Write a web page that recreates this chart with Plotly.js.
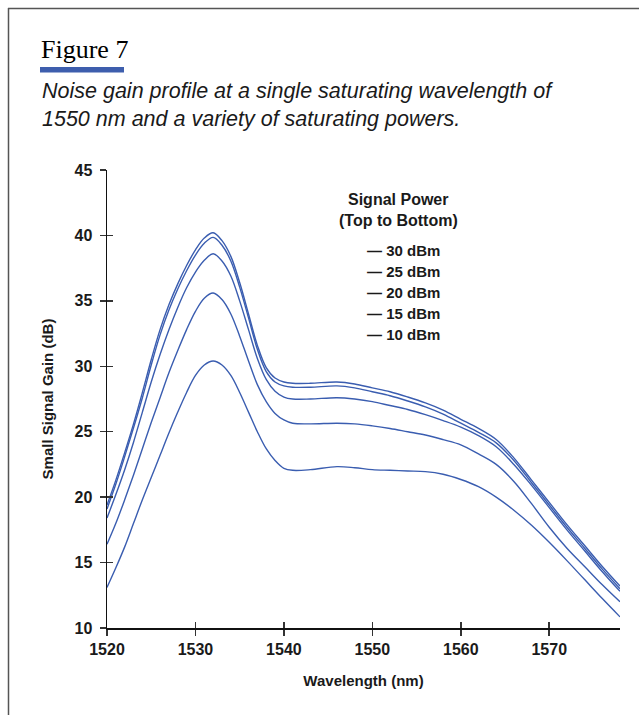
<!DOCTYPE html>
<html>
<head>
<meta charset="utf-8">
<script src="https://cdn.plot.ly/plotly-3.0.1.min.js"></script>
<style>
  html, body { margin: 0; padding: 0; background: #fff; }
  #chart { width: 639px; height: 715px; }
</style>
</head>
<body>
<div id="chart"></div>
<script>
// ---- Data ----
const wavelength = [1520,1521,1522,1523,1524,1525,1526,1527,1528,1529,1530,1531,1532,1533,1534,1535,1536,1537,1538,1539,1540,1541,1543,1546,1548,1550,1552,1554,1556,1558,1560,1562,1564,1566,1568,1570,1572,1574,1576,1578];
const gain30dBm = [19.4,21.3,23.4,25.6,28.0,30.5,32.8,34.7,36.3,37.7,38.9,39.8,40.2,39.6,38.4,36.4,34.0,31.6,29.9,29.1,28.8,28.7,28.7,28.8,28.65,28.35,28.05,27.65,27.2,26.65,25.95,25.25,24.4,23.0,21.3,19.6,17.9,16.3,14.7,13.2];
const gain25dBm = [19.1,21.0,23.1,25.3,27.6,30.1,32.4,34.3,35.9,37.3,38.5,39.4,39.85,39.25,38.05,36.05,33.7,31.3,29.6,28.8,28.5,28.4,28.4,28.5,28.35,28.05,27.75,27.35,26.9,26.35,25.65,24.95,24.15,22.8,21.1,19.4,17.7,16.1,14.5,13.0];
const gain20dBm = [18.4,20.2,22.1,24.2,26.5,28.8,30.9,32.8,34.5,36.0,37.2,38.1,38.6,38.05,36.9,35.0,32.8,30.6,29.0,28.1,27.65,27.5,27.5,27.6,27.5,27.3,27.0,26.7,26.3,25.85,25.35,24.7,23.85,22.5,20.9,19.2,17.5,15.9,14.3,12.8];
const gain15dBm = [16.4,18.0,19.8,21.7,23.7,25.7,27.6,29.5,31.2,32.8,34.2,35.2,35.6,35.1,34.0,32.3,30.4,28.6,27.3,26.4,25.9,25.65,25.6,25.65,25.6,25.45,25.25,25.0,24.75,24.4,24.0,23.3,22.5,21.2,19.5,17.7,16.1,14.7,13.3,12.0];
const gain10dBm = [13.1,14.6,16.2,18.0,19.8,21.5,23.2,24.9,26.5,28.0,29.3,30.1,30.4,30.1,29.3,28.0,26.5,25.0,23.7,22.8,22.2,22.05,22.1,22.33,22.25,22.1,22.05,22.0,21.95,21.75,21.35,20.8,20.0,19.0,17.85,16.55,15.15,13.7,12.25,10.85];
const seriesNames = ['30 dBm','25 dBm','20 dBm','15 dBm','10 dBm'];
const seriesValues = [gain30dBm, gain25dBm, gain20dBm, gain15dBm, gain10dBm];
const xTicks = [1520,1530,1540,1550,1560,1570];
const yTicks = [10,15,20,25,30,35,40,45];
const titleText = 'Figure 7';
const subtitleLines = ['Noise gain profile at a single saturating wavelength of', '1550 nm and a variety of saturating powers.'];
const legendTitle = ['Signal Power','(Top to Bottom)'];

// ---- Layout helpers ----
const W = 639, H = 715;
const M = {l:107, r:19, t:170, b:87};
const pw = W - M.l - M.r, ph = H - M.t - M.b;
const px = v => (v - M.l) / pw;
const py = v => (H - M.b - v) / ph;

const lineColor = '#3a5db0';
const sans = '"Liberation Sans", Arial, sans-serif';
const ink = '#1a1a1a';

const traces = seriesValues.map((vals, i) => ({
  type: 'scatter', mode: 'lines', x: wavelength, y: vals, name: seriesNames[i],
  line: {color: lineColor, width: 1.4, shape: 'spline', smoothing: 1},
  showlegend: false, hoverinfo: 'x+y+name'
}));
// invisible trace to bind the mirror axes (crossing tick marks)
traces.push({type:'scatter', mode:'lines', x:[1520], y:[10], xaxis:'x2', yaxis:'y2', showlegend:false, hoverinfo:'skip', line:{width:0}});

const annotations = [
  {text: titleText, xref:'paper', yref:'paper', x: px(39), y: py(49), xanchor:'left', yanchor:'middle', showarrow:false,
   font:{family:'"Liberation Serif", "DejaVu Serif", serif', size:26, color:'#000'}},
  {text: subtitleLines.join('<br>'), xref:'paper', yref:'paper', x: px(40), y: py(105.5), xanchor:'left', yanchor:'middle', align:'left', showarrow:false,
   font:{family:sans, size:21.5, color:ink, style:'italic'}},
  {text: '<b>' + legendTitle[0] + '</b>', xref:'paper', yref:'paper', x: px(398), y: py(199), xanchor:'center', yanchor:'middle', showarrow:false,
   font:{family:sans, size:16, color:ink}},
  {text: '<b>' + legendTitle[1] + '</b>', xref:'paper', yref:'paper', x: px(398), y: py(220), xanchor:'center', yanchor:'middle', showarrow:false,
   font:{family:sans, size:16, color:ink}}
];
seriesNames.forEach((n, i) => {
  annotations.push({text: '<b>\u2014 ' + n + '</b>', xref:'paper', yref:'paper', x: px(365), y: py(250 + i*21.2), xanchor:'left', yanchor:'middle', showarrow:false,
    font:{family:sans, size:15, color:ink}});
});

const shapes = [
  // blue bar under the figure title
  {type:'rect', xref:'paper', yref:'paper', x0: px(40), x1: px(124), y0: py(67), y1: py(72.5), fillcolor:'#3e5ead', line:{width:0}},
  // outer frame (left and top)
  {type:'line', xref:'paper', yref:'paper', x0: px(8.5), x1: px(8.5), y0: py(8), y1: py(716), line:{color:'#555', width:1.5}},
  {type:'line', xref:'paper', yref:'paper', x0: px(8), x1: px(640), y0: py(8.5), y1: py(8.5), line:{color:'#555', width:1.5}}
];

const axisFont = {family: sans, size: 16, color: ink, weight: 'bold'};

const layout = {
  width: W, height: H,
  margin: M,
  paper_bgcolor:'#fff', plot_bgcolor:'#fff',
  showlegend: false,
  xaxis: {
    range: [1520, 1578], tickvals: xTicks, ticktext: xTicks.map(String),
    showgrid:false, zeroline:false, showline:true, linecolor:'#111', linewidth:1.5,
    ticks:'outside', ticklen:6, tickwidth:1.5, tickcolor:'#333',
    tickfont: axisFont,
    title: {text:'<b>Wavelength (nm)</b>', font:{family:sans, size:15, color:ink}, standoff: 19}
  },
  yaxis: {
    range: [10, 45], tickvals: yTicks, ticktext: yTicks.map(String),
    showgrid:false, zeroline:false, showline:true, linecolor:'#111', linewidth:1.5,
    ticks:'outside', ticklen:6, tickwidth:1.5, tickcolor:'#333', ticklabelstandoff: 4,
    tickfont: axisFont,
    title: {text:'<b>Small Signal Gain (dB)</b>', font:{family:sans, size:15, color:ink}, standoff: 17}
  },
  xaxis2: {overlaying:'x', matches:'x', range:[1520,1578], tickvals: xTicks, showticklabels:false, ticks:'inside', ticklen:6, tickwidth:1.5, tickcolor:'#333', showgrid:false, zeroline:false, showline:false, side:'bottom'},
  yaxis2: {overlaying:'y', matches:'y', range:[10,45], tickvals: yTicks, showticklabels:false, ticks:'inside', ticklen:6, tickwidth:1.5, tickcolor:'#333', showgrid:false, zeroline:false, showline:false, side:'left'},
  annotations: annotations,
  shapes: shapes
};

Plotly.newPlot('chart', traces, layout, {displayModeBar:false, staticPlot:true});
</script>
</body>
</html>
